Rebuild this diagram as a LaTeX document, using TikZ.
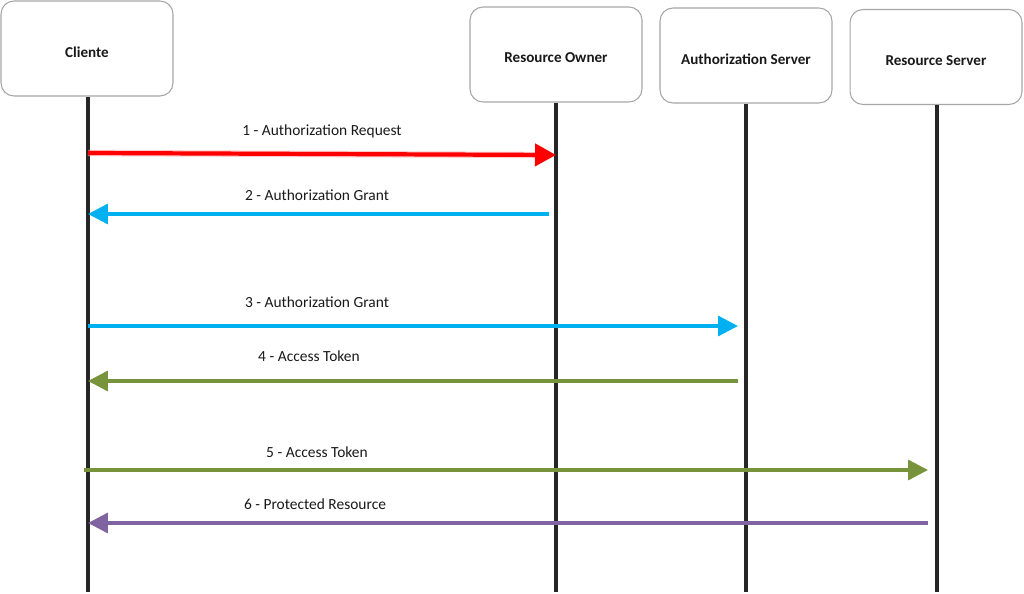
\documentclass[tikz,border=0pt]{standalone}
\usepackage{fontspec}
\setmainfont{Carlito}
\usetikzlibrary{arrows.meta}
\definecolor{boxgray}{HTML}{A6A6A6}
\definecolor{reqred}{HTML}{FF0000}
\definecolor{grantblue}{HTML}{00B0F0}
\definecolor{tokengreen}{HTML}{77933C}
\definecolor{respurple}{HTML}{8064A2}
\tikzset{
  actor/.style={draw=boxgray, line width=0.6pt, rounded corners=0.26cm, fill=white,
    minimum width=3.44cm, minimum height=1.9cm},
  actorlabel/.style={font=\fontsize{8.6}{10}\selectfont\bfseries, text=black!90, yshift=-0.07cm},
  lifeline/.style={draw=black!85, line width=2.2pt},
  msg/.style={line width=#1},
  msg/.default=1.9pt,
  msglabel/.style={font=\fontsize{8.8}{10}\selectfont, text=black!90, inner sep=0pt}
}
\begin{document}
\begin{tikzpicture}[x=0.02cm,y=-0.02cm]
\useasboundingbox (0,0) rectangle (1024,594);
% actors
\node[actor, label={[actorlabel]center:Cliente}] (cl) at (87,48.5) {};
\node[actor, label={[actorlabel]center:Resource Owner}] (ro) at (556,54.5) {};
\node[actor, label={[actorlabel]center:Authorization Server}] (as) at (746,55.5) {};
\node[actor, label={[actorlabel]center:Resource Server}] (rs) at (936,57) {};
% lifeline ends
\coordinate (clend) at (88,592);
\coordinate (roend) at (556,592);
\coordinate (asend) at (746,592);
\coordinate (rsend) at (937,592);
\draw[lifeline] (cl.south) ++(1,0) -- (clend);
\draw[lifeline] (ro.south) -- (roend);
\draw[lifeline] (as.south) -- (asend);
\draw[lifeline] (rs.south) ++(1,0) -- (rsend);
% message end points
\coordinate (m1s) at (88,153);  \coordinate (m1e) at (556,155);
\coordinate (m2s) at (549,214); \coordinate (m2e) at (88,214);
\coordinate (m3s) at (88,326);  \coordinate (m3e) at (738,326);
\coordinate (m4s) at (738,381); \coordinate (m4e) at (88,381);
\coordinate (m5s) at (84,470);  \coordinate (m5e) at (928,470);
\coordinate (m6s) at (928,523); \coordinate (m6e) at (88,523);
% messages
\draw[msg=2.4pt, draw=reqred!35, line width=3.6pt, opacity=0.6] (m1s) -- ([xshift=-0.3cm]m1e);
\draw[msg=2.4pt, draw=reqred, -{Triangle[length=0.42cm,width=0.44cm,fill=reqred]}] (m1s) -- (m1e);
\draw[msg, draw=grantblue, -{Triangle[length=0.4cm,width=0.4cm,fill=grantblue]}] (m2s) -- (m2e);
\draw[msg, draw=grantblue, -{Triangle[length=0.4cm,width=0.4cm,fill=grantblue]}] (m3s) -- (m3e);
\draw[msg, draw=tokengreen, -{Triangle[length=0.4cm,width=0.4cm,fill=tokengreen]}] (m4s) -- (m4e);
\draw[msg, draw=tokengreen, -{Triangle[length=0.4cm,width=0.4cm,fill=tokengreen]}] (m5s) -- (m5e);
\draw[msg, draw=respurple, -{Triangle[length=0.4cm,width=0.4cm,fill=respurple]}] (m6s) -- (m6e);
% labels
\node[msglabel] (l1) at (322,131) {1 - Authorization Request};
\node[msglabel] (l2) at (317,195) {2 - Authorization Grant};
\node[msglabel] (l3) at (317,302) {3 - Authorization Grant};
\node[msglabel] (l4) at (309,356) {4 - Access Token};
\node[msglabel] (l5) at (317,452) {5 - Access Token};
\node[msglabel] (l6) at (315,504) {6 - Protected Resource};
\end{tikzpicture}
\end{document}
